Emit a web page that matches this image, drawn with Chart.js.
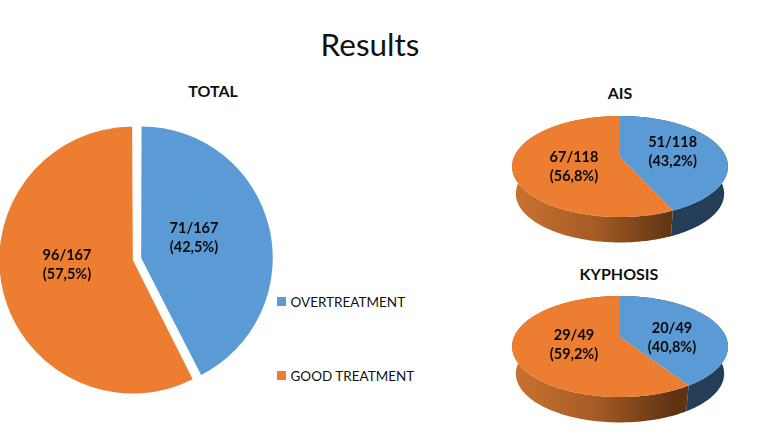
<!DOCTYPE html>
<html>
<head>
<meta charset="utf-8">
<script src="https://cdn.jsdelivr.net/npm/chart.js@4"></script>
<style>
  html, body { margin: 0; height: 100%; background: #fff; overflow: hidden; }
  body { position: relative; width: 768px; height: 435px; font-family: Lato, sans-serif; color: #111; }
  canvas { position: absolute; }
  .heading { position: absolute; transform: translate(-50%, -50%); font-weight: bold; font-size: 16px; white-space: nowrap; }
  #results { position: absolute; left: 370px; top: 44px; transform: translate(-50%, -50%); font-size: 31.5px; }
  .key { position: absolute; left: 277px; font-size: 13.5px; line-height: 18px; white-space: nowrap; }
  .key i { position: absolute; left: 0; top: 4px; width: 9px; height: 9px; }
  .key span { margin-left: 13.5px; }
</style>
</head>
<body>
<div id="results">Results</div>
<div class="heading" style="left:213px;top:90px">TOTAL</div>
<div class="heading" style="left:620px;top:92px">AIS</div>
<div class="heading" style="left:619px;top:273px">KYPHOSIS</div>
<div class="key" style="top:293px"><i id="keyOver"></i><span>OVERTREATMENT</span></div>
<div class="key" style="top:367px"><i id="keyGood"></i><span>GOOD TREATMENT</span></div>

<canvas id="total" width="274" height="274" style="left:0;top:122px"></canvas>
<canvas id="ais" width="224" height="224" style="left:508px;top:45px"></canvas>
<canvas id="kyphosis" width="224" height="224" style="left:508px;top:225px"></canvas>

<script>
const categories = ['OVERTREATMENT', 'GOOD TREATMENT'];
const totalValues = [71, 96];
const aisValues = [51, 67];
const kyphosisValues = [20, 29];

const BLUE = '#5b9bd5';
const ORANGE = '#ed7d31';
const colors = [BLUE, ORANGE];

document.getElementById('keyOver').style.background = BLUE;
document.getElementById('keyGood').style.background = ORANGE;

// "71/167" and "(42,5%)" for each slice, decimal comma
function sliceLines(values, i) {
  const sum = values.reduce((a, b) => a + b, 0);
  const pct = (values[i] / sum * 100).toFixed(1).replace('.', ',');
  return [values[i] + '/' + sum, '(' + pct + '%)'];
}

// text on the slices, placed relative to the pie centre
function sliceLabels(at) {
  return {
    id: 'sliceLabels',
    afterDraw(chart) {
      const { ctx } = chart;
      const values = chart.data.datasets[0].data;
      const arcs = chart.getDatasetMeta(0).data;
      ctx.save();
      ctx.font = 'bold 14.5px Lato, sans-serif';
      ctx.fillStyle = '#0a0a0a';
      ctx.textAlign = 'center';
      ctx.textBaseline = 'middle';
      arcs.forEach((arc, i) => {
        const lines = sliceLines(values, i);
        ctx.fillText(lines[0], arc.x + at[i][0], arc.y + at[i][1] - 9.5);
        ctx.fillText(lines[1], arc.x + at[i][0], arc.y + at[i][1] + 9.5);
      });
      ctx.restore();
    }
  };
}

// tilted disc: takes the angles Chart.js computed and projects them in perspective,
// with a side wall below the near edge
const TILT_K = 0.188;
const TILT_B = 0.46;
const WALL_SCALE = 0.965;
const WALL_DROP = 27.5;

function project(arc, angle) {
  const u = Math.cos(angle);
  const v = Math.sin(angle);
  const w = 1 - TILT_K * v;
  return [arc.outerRadius * u / w, arc.outerRadius * TILT_B * v / w];
}

function rimPoints(arc) {
  const pts = [];
  const steps = Math.max(8, Math.ceil((arc.endAngle - arc.startAngle) * 60));
  for (let s = 0; s <= steps; s++) {
    pts.push(project(arc, arc.startAngle + (arc.endAngle - arc.startAngle) * s / steps));
  }
  return pts;
}

const tiltedPie = {
  id: 'tiltedPie',
  beforeDatasetsDraw(chart) {
    const { ctx } = chart;
    const arcs = chart.getDatasetMeta(0).data;
    const cx = arcs[0].x;
    const cy = arcs[0].y;
    const r = arcs[0].outerRadius;

    ctx.save();
    ctx.translate(cx, cy);

    const orangeWall = ctx.createLinearGradient(-r, 0, r * 0.5, 0);
    orangeWall.addColorStop(0, '#c97230');
    orangeWall.addColorStop(0.5, '#a65c25');
    orangeWall.addColorStop(1, '#5e3413');
    const wallFill = ['#233e56', orangeWall];

    arcs.forEach((arc, i) => {
      const pts = rimPoints(arc);
      ctx.beginPath();
      pts.forEach(p => ctx.lineTo(p[0], p[1]));
      pts.reverse().forEach(p => ctx.lineTo(p[0] * WALL_SCALE, p[1] * WALL_SCALE + WALL_DROP));
      ctx.closePath();
      ctx.fillStyle = wallFill[i];
      ctx.fill();
    });

    arcs.forEach((arc, i) => {
      ctx.beginPath();
      ctx.moveTo(0, 0);
      rimPoints(arc).forEach(p => ctx.lineTo(p[0], p[1]));
      ctx.closePath();
      ctx.fillStyle = colors[i];
      ctx.fill();
    });

    ctx.restore();
    return false;
  }
};

function pieConfig(values, radius, offset, at, extra) {
  return {
    type: 'pie',
    data: {
      labels: categories,
      datasets: [{ data: values, backgroundColor: colors, borderWidth: 0, offset: offset }]
    },
    options: {
      responsive: false,
      animation: false,
      radius: radius,
      plugins: { legend: { display: false }, tooltip: { enabled: false } }
    },
    plugins: extra.concat(sliceLabels(at))
  };
}

new Chart(document.getElementById('total'),
  pieConfig(totalValues, 129.2, 17.2, [[57, -21], [-70, 6]], []));
new Chart(document.getElementById('ais'),
  pieConfig(aisValues, 106, 0, [[52.7, -5], [-46, 10]], [tiltedPie]));
new Chart(document.getElementById('kyphosis'),
  pieConfig(kyphosisValues, 106, 0, [[52, 0.5], [-46, 8]], [tiltedPie]));
</script>
</body>
</html>
